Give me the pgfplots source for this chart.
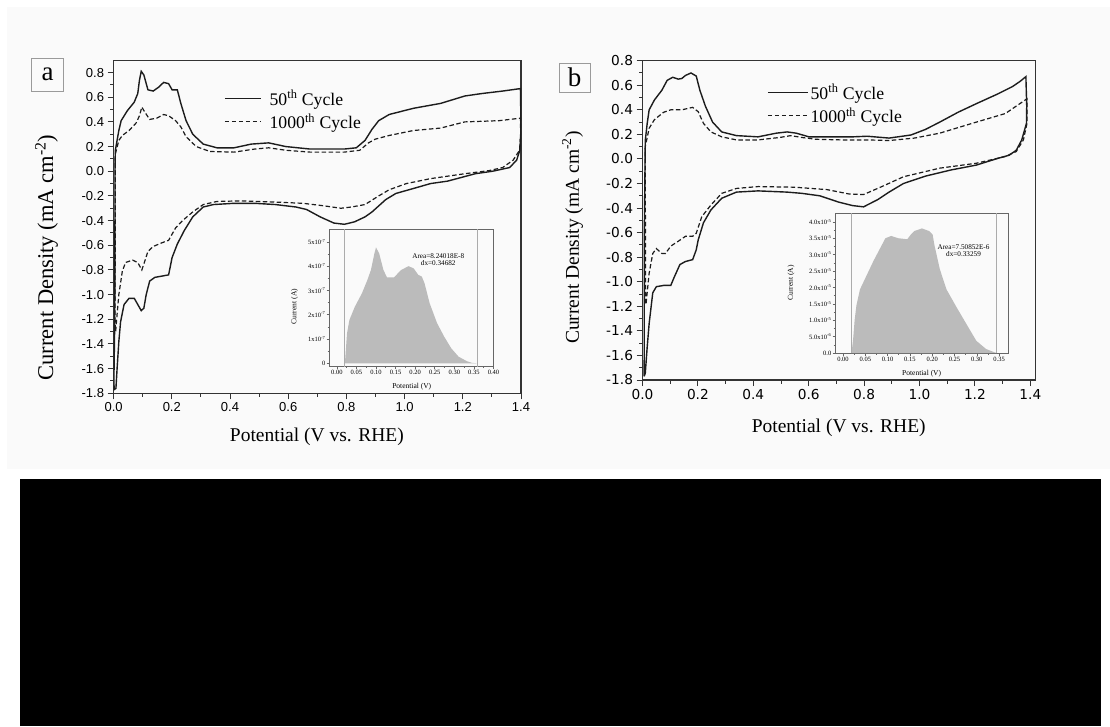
\documentclass[border=0pt]{standalone}
\usepackage{pgfplots}
\pgfplotsset{compat=1.18}
\usepackage{fontspec}
\setmainfont{Liberation Serif}
\newfontfamily\arialf{Liberation Sans}
\newfontfamily\verdf{DejaVu Sans}
\newcommand{\fs}[1]{\fontsize{#1}{#1}\selectfont}
\definecolor{ink}{HTML}{1C1C1C}
\definecolor{frame}{HTML}{333333}
\definecolor{insetframe}{HTML}{666666}
\definecolor{panelbg}{HTML}{FAFAFA}
\definecolor{areafill}{HTML}{BBBBBB}
\definecolor{limline}{HTML}{ABABAB}
\definecolor{tagframe}{HTML}{9A9A9A}

\pgfplotsset{
  cv/.style={
    scale only axis,
    axis line style={frame, line width=1.1pt},
    tick style={frame, line width=1pt},
    tick align=outside, xtick pos=bottom, ytick pos=left,
    major tick length=6pt, minor tick length=3.5pt,
    minor x tick num=1, minor y tick num=1,
    /pgf/number format/assume math mode=true,
    /pgf/number format/fixed, /pgf/number format/fixed zerofill,
    /pgf/number format/precision=1,
    ymin=-1.8,
    xtick={0,0.2,0.4,0.6,0.8,1.0,1.2,1.4},
    ytick={-1.8,-1.6,-1.4,-1.2,-1.0,-0.8,-0.6,-0.4,-0.2,0,0.2,0.4,0.6,0.8},
    legend cell align=left,
  },
  inset/.style={
    scale only axis,
    axis line style={insetframe, line width=0.8pt},
    tick style={insetframe, line width=0.6pt},
    tick align=outside, xtick pos=bottom, ytick pos=left,
    major tick length=2.5pt, minor tick length=1.5pt,
    minor x tick num=1, minor y tick num=1,
    scaled x ticks=false, scaled y ticks=false,
    /pgf/number format/assume math mode=true,
    /pgf/number format/fixed, /pgf/number format/fixed zerofill,
    /pgf/number format/precision=2,
    ticklabel style={font=\fs{6.5}, inner sep=1pt},
    label style={font=\fs{7.5}},
  },
  cycle50/.style={ink, line width=1.4pt},
  cycle1000/.style={ink, line width=1.2pt, dash pattern=on 4.5pt off 2.5pt},
}

\begin{document}
\begin{tikzpicture}[x=1pt,y=1pt]
% page and panel background
\fill[white] (0,0) rectangle (1110,-726);
\fill[panelbg] (7,-7) rectangle (1110,-468.5);
\fill[black] (20,-479) rectangle (1101,-726);

% ---------------- panel a ----------------
\draw[tagframe, line width=1pt] (31.7,-58.3) rectangle (63.3,-91.7);
\node[font=\fs{27}] at (47.5,-74) {a};

\begin{axis}[cv,
  at={(113.6pt,-60.7pt)}, anchor=north west,
  width=407.4pt, height=332.6pt,
  xmin=0, xmax=1.4, ymax=0.896,
  ticklabel style={font=\arialf\fs{13}},
  xlabel={Potential (V vs. RHE)},
  ylabel={Current Density (mA cm\textsuperscript{-2})},
  xlabel style={font=\fs{19.5}, at={(axis description cs:0.499,-0.1305)}, anchor=center},
  ylabel style={font=\fs{22.5}, at={(axis description cs:-0.1647,0.408)}, anchor=center},
  legend style={draw=none, fill=none, at={(axis description cs:0.271,0.915)},
    anchor=north west, font=\fs{17.7}, inner sep=0pt, row sep=5pt,
    nodes={inner sep=1pt}},
  legend image code/.code={\draw[#1] (0pt,0pt) -- (36pt,0pt); \path (43pt,0pt);},
]
\addplot[cycle50] coordinates {
(0.004,-1.20)(0.005,0.05)(0.006,0.17)(0.012,0.25)(0.018,0.33)(0.026,0.41)(0.047,0.49)
(0.071,0.56)(0.083,0.63)(0.089,0.74)(0.095,0.81)(0.104,0.78)(0.118,0.66)(0.136,0.65)
(0.154,0.68)(0.172,0.72)(0.189,0.71)(0.201,0.66)(0.219,0.66)(0.231,0.55)(0.249,0.41)
(0.272,0.30)(0.308,0.22)(0.355,0.19)(0.414,0.19)(0.473,0.22)(0.533,0.23)(0.592,0.20)
(0.675,0.18)(0.793,0.18)(0.834,0.19)(0.864,0.25)(0.888,0.34)(0.911,0.41)(0.947,0.46)
(1.030,0.51)(1.124,0.55)(1.207,0.61)(1.266,0.63)(1.337,0.65)(1.398,0.67)(1.399,0.52)
(1.399,0.30)(1.396,0.17)(1.385,0.09)(1.361,0.03)(1.302,0.0)(1.243,-0.02)(1.148,-0.08)
(1.089,-0.10)(1.030,-0.14)(0.970,-0.18)(0.935,-0.23)(0.888,-0.33)(0.864,-0.37)
(0.828,-0.41)(0.793,-0.43)(0.757,-0.42)(0.710,-0.37)(0.663,-0.31)(0.627,-0.29)
(0.556,-0.27)(0.485,-0.26)(0.414,-0.26)(0.343,-0.27)(0.308,-0.29)(0.272,-0.37)
(0.243,-0.48)(0.219,-0.59)(0.201,-0.70)(0.189,-0.84)(0.166,-0.85)(0.142,-0.86)
(0.124,-0.89)(0.112,-1.00)(0.104,-1.11)(0.095,-1.13)(0.083,-1.08)(0.071,-1.03)
(0.053,-1.03)(0.036,-1.08)(0.024,-1.22)(0.018,-1.38)(0.012,-1.60)(0.008,-1.76)
(0.002,-1.77)(0.001,-1.70)(0.004,-1.20)
};
\addlegendentry{50\textsuperscript{th} Cycle}
\addplot[cycle1000] coordinates {
(0.005,-1.22)(0.006,0.14)(0.018,0.25)(0.030,0.29)(0.053,0.33)(0.077,0.39)(0.089,0.45)
(0.097,0.52)(0.107,0.48)(0.124,0.42)(0.148,0.43)(0.172,0.46)(0.189,0.45)(0.213,0.41)
(0.231,0.36)(0.249,0.28)(0.284,0.20)(0.331,0.16)(0.414,0.155)(0.485,0.18)(0.533,0.19)
(0.592,0.17)(0.675,0.155)(0.793,0.155)(0.846,0.17)(0.876,0.23)(0.899,0.26)(0.947,0.29)
(1.030,0.33)(1.124,0.35)(1.207,0.40)(1.325,0.41)(1.398,0.43)(1.399,0.30)(1.395,0.17)
(1.373,0.09)(1.337,0.03)(1.290,0.005)(1.207,-0.02)(1.089,-0.06)(1.006,-0.10)
(0.947,-0.15)(0.911,-0.20)(0.864,-0.27)(0.817,-0.29)(0.781,-0.30)(0.722,-0.28)
(0.651,-0.26)(0.556,-0.25)(0.438,-0.24)(0.355,-0.245)(0.308,-0.27)(0.272,-0.33)
(0.237,-0.40)(0.213,-0.46)(0.189,-0.56)(0.166,-0.58)(0.136,-0.61)(0.118,-0.65)
(0.107,-0.73)(0.097,-0.80)(0.083,-0.74)(0.065,-0.72)(0.041,-0.74)(0.030,-0.81)
(0.018,-1.00)(0.012,-1.16)(0.007,-1.30)(0.005,-1.22)
};
\addlegendentry{1000\textsuperscript{th} Cycle}
\end{axis}

% inset a: integrated charge
\begin{axis}[inset,
  at={(329pt,-229pt)}, anchor=north west,
  width=164.5pt, height=137.7pt,
  xmin=-0.02, xmax=0.40, ymin=-0.14e-7, ymax=5.53e-7,
  xtick={0,0.05,0.10,0.15,0.20,0.25,0.30,0.35,0.40},
  ytick={0,1e-7,2e-7,3e-7,4e-7,5e-7},
  yticklabels={0,1x10\textsuperscript{-7},2x10\textsuperscript{-7},3x10\textsuperscript{-7},4x10\textsuperscript{-7},5x10\textsuperscript{-7}},
  xlabel={Potential (V)}, ylabel={Current (A)},
  xlabel style={at={(axis description cs:0.503,-0.145)}, anchor=center},
  ylabel style={at={(axis description cs:-0.21,0.436)}, anchor=center},
]
\addplot[draw=none, fill=areafill] coordinates {
(0.018,0)(0.021,0.1e-7)(0.026,1.23e-7)(0.032,1.78e-7)(0.046,2.33e-7)(0.064,2.88e-7)
(0.078,3.43e-7)(0.087,3.84e-7)(0.096,4.53e-7)(0.100,4.77e-7)(0.108,4.53e-7)
(0.119,3.84e-7)(0.128,3.54e-7)(0.146,3.54e-7)(0.164,3.84e-7)(0.183,4.00e-7)
(0.196,3.91e-7)(0.208,3.64e-7)(0.217,3.57e-7)(0.224,3.29e-7)(0.237,2.47e-7)
(0.256,1.65e-7)(0.274,1.10e-7)(0.292,0.62e-7)(0.311,0.27e-7)(0.333,0.08e-7)
(0.345,0.02e-7)(0.357,0)
} \closedcycle;
\addplot[limline, line width=0.7pt] coordinates {(0.019,-0.14e-7)(0.019,5.53e-7)};
\addplot[limline, line width=0.7pt] coordinates {(0.359,-0.14e-7)(0.359,5.53e-7)};
\node[font=\fs{7.2}, align=center, inner sep=0pt] at (axis description cs:0.664,0.78)
  {Area=8.24018E-8\\dx=0.34682};
\end{axis}

% ---------------- panel b ----------------
\draw[tagframe, line width=1pt] (559,-63) rectangle (590,-92);
\node[font=\fs{27}] at (574.5,-77) {b};

\begin{axis}[cv,
  at={(642.5pt,-60.7pt)}, anchor=north west,
  width=392.8pt, height=319.3pt,
  xmin=0, xmax=1.418, ymax=0.8,
  ticklabel style={font=\verdf\fs{13.7}},
  xlabel={Potential (V vs. RHE)},
  ylabel={Current Density (mA cm\textsuperscript{-2})},
  xlabel style={font=\fs{19.5}, at={(axis description cs:0.4996,-0.1512)}, anchor=center},
  ylabel style={font=\fs{19.5}, at={(axis description cs:-0.178,0.446)}, anchor=center},
  legend style={draw=none, fill=none, at={(axis description cs:0.317,0.930)},
    anchor=north west, font=\fs{17.7}, inner sep=0pt, row sep=5pt,
    nodes={inner sep=1pt}},
  legend image code/.code={\draw[#1] (0pt,0pt) -- (40pt,0pt); \path (41pt,0pt);},
]
\addplot[cycle50] coordinates {
(0.006,-1.77)(0.007,-0.5)(0.010,0.15)(0.017,0.29)(0.024,0.40)(0.043,0.48)(0.070,0.56)
(0.089,0.64)(0.109,0.665)(0.129,0.65)(0.142,0.655)(0.155,0.68)(0.175,0.70)(0.194,0.675)
(0.207,0.56)(0.227,0.43)(0.253,0.30)(0.286,0.22)(0.339,0.19)(0.417,0.18)(0.483,0.21)
(0.522,0.22)(0.555,0.21)(0.601,0.18)(0.680,0.18)(0.759,0.18)(0.811,0.185)(0.890,0.17)
(0.969,0.195)(1.021,0.24)(1.073,0.30)(1.139,0.38)(1.205,0.45)(1.283,0.53)(1.336,0.59)
(1.362,0.63)(1.384,0.67)(1.387,0.43)(1.386,0.29)(1.369,0.155)(1.349,0.07)(1.323,0.03)
(1.283,0.005)(1.205,-0.05)(1.113,-0.09)(1.021,-0.14)(0.942,-0.20)(0.890,-0.27)
(0.850,-0.33)(0.798,-0.39)(0.759,-0.38)(0.706,-0.35)(0.640,-0.30)(0.575,-0.28)
(0.522,-0.27)(0.417,-0.26)(0.339,-0.27)(0.286,-0.32)(0.247,-0.415)(0.220,-0.52)
(0.201,-0.66)(0.194,-0.74)(0.181,-0.82)(0.155,-0.835)(0.135,-0.86)(0.115,-0.96)
(0.102,-1.03)(0.076,-1.03)(0.050,-1.04)(0.037,-1.09)(0.024,-1.34)(0.017,-1.53)
(0.010,-1.745)(0.006,-1.77)
};
\addlegendentry{50\textsuperscript{th} Cycle}
\addplot[cycle1000] coordinates {
(0.011,-1.175)(0.010,0.10)(0.024,0.25)(0.043,0.32)(0.076,0.38)(0.102,0.40)(0.142,0.40)
(0.181,0.42)(0.201,0.385)(0.220,0.29)(0.247,0.22)(0.286,0.18)(0.339,0.155)(0.417,0.155)
(0.496,0.175)(0.535,0.19)(0.575,0.175)(0.627,0.16)(0.719,0.155)(0.811,0.155)(0.890,0.15)
(0.982,0.17)(1.073,0.21)(1.205,0.30)(1.310,0.37)(1.388,0.49)(1.388,0.29)(1.375,0.155)
(1.349,0.06)(1.310,0.02)(1.205,-0.035)(1.073,-0.075)(0.942,-0.145)(0.864,-0.225)
(0.798,-0.29)(0.745,-0.285)(0.667,-0.25)(0.549,-0.23)(0.417,-0.225)(0.339,-0.24)
(0.286,-0.28)(0.247,-0.375)(0.214,-0.47)(0.194,-0.605)(0.181,-0.63)(0.155,-0.63)
(0.129,-0.67)(0.102,-0.71)(0.083,-0.77)(0.070,-0.77)(0.050,-0.73)(0.037,-0.77)
(0.024,-0.93)(0.013,-1.175)
};
\addlegendentry{1000\textsuperscript{th} Cycle}
\end{axis}

% inset b: integrated charge
\begin{axis}[inset,
  at={(835pt,-213pt)}, anchor=north west,
  width=173pt, height=140pt,
  xmin=-0.018, xmax=0.370, ymin=0, ymax=4.27e-5,
  xtick={0,0.05,0.10,0.15,0.20,0.25,0.30,0.35},
  ytick={0,0.5e-5,1e-5,1.5e-5,2e-5,2.5e-5,3e-5,3.5e-5,4e-5},
  yticklabels={0.0,5.0x10\textsuperscript{-6},1.0x10\textsuperscript{-5},1.5x10\textsuperscript{-5},2.0x10\textsuperscript{-5},2.5x10\textsuperscript{-5},3.0x10\textsuperscript{-5},3.5x10\textsuperscript{-5},4.0x10\textsuperscript{-5}},
  xlabel={Potential (V)}, ylabel={Current (A)},
  xlabel style={at={(axis description cs:0.501,-0.145)}, anchor=center},
  ylabel style={at={(axis description cs:-0.254,0.5)}, anchor=center},
]
\addplot[draw=none, fill=areafill] coordinates {
(0.018,0)(0.020,0.1e-5)(0.023,0.48e-5)(0.026,1.0e-5)(0.030,1.45e-5)(0.038,1.94e-5)
(0.053,2.37e-5)(0.068,2.80e-5)(0.083,3.19e-5)(0.095,3.50e-5)(0.108,3.57e-5)
(0.124,3.50e-5)(0.144,3.47e-5)(0.152,3.61e-5)(0.160,3.72e-5)(0.177,3.80e-5)
(0.193,3.72e-5)(0.201,3.61e-5)(0.205,3.29e-5)(0.217,2.56e-5)(0.232,1.94e-5)
(0.254,1.41e-5)(0.276,0.90e-5)(0.299,0.37e-5)(0.321,0.12e-5)(0.340,0.02e-5)(0.345,0)
} \closedcycle;
\addplot[limline, line width=0.7pt] coordinates {(0.018,0)(0.018,4.27e-5)};
\addplot[limline, line width=0.7pt] coordinates {(0.343,0)(0.343,4.27e-5)};
\node[font=\fs{7.2}, align=center, inner sep=0pt] at (axis description cs:0.743,0.732)
  {Area=7.50852E-6\\dx=0.33259};
\end{axis}

\pgfresetboundingbox
\path (0,0) rectangle (1110,-726);
\end{tikzpicture}
\end{document}
